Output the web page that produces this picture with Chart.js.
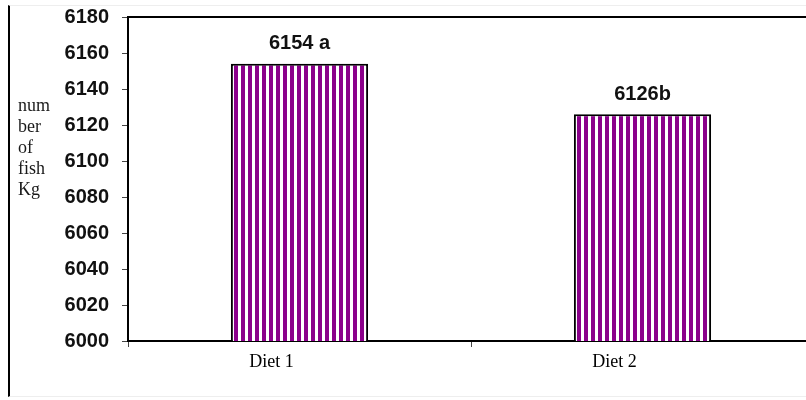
<!DOCTYPE html>
<html>
<head>
<meta charset="utf-8">
<script src="https://cdn.jsdelivr.net/npm/chart.js@4/dist/chart.umd.min.js"></script>
<style>
  html, body { margin: 0; padding: 0; background: #fff; overflow: hidden; width: 806px; height: 400px; }
  #wrap { position: relative; width: 806px; height: 400px; }
  #frame { position: absolute; left: 8px; top: 5px; width: 810px; height: 392px;
           border-left: 2px solid #000; border-top: 1px solid #eee; border-bottom: 1px solid #eee; box-sizing: border-box; }
  #holder { position: absolute; left: 0; top: 0; width: 814px; height: 400px; }
  #ytitle { position: absolute; left: 18px; top: 95px; font-family: "Liberation Serif", serif;
            font-size: 18px; line-height: 21px; color: #1a1a1a; }
</style>
</head>
<body>
<div id="wrap">
  <div id="frame"></div>
  <div id="holder"><canvas id="c" width="814" height="400"></canvas></div>
  <div id="ytitle">num<br>ber<br>of<br>fish<br>Kg</div>
</div>
<script>
// Fish yield per diet
const categories = ["Diet 1", "Diet 2"];
const fishKg = [6154, 6126];
const letters = [" a", "b"];
const yTicks = [6000, 6020, 6040, 6060, 6080, 6100, 6120, 6140, 6160, 6180];

// vertical purple/white stripe fill
const stripeTile = document.createElement("canvas");
stripeTile.width = 7; stripeTile.height = 10;
(() => {
  const g = stripeTile.getContext("2d");
  g.fillStyle = "#ffffff"; g.fillRect(0, 0, 7, 10);
  g.fillStyle = "#8b008b"; g.fillRect(3, 0, 4, 10);
})();
const pattern = document.getElementById("c").getContext("2d").createPattern(stripeTile, "repeat");

const topLine = {
  id: "topLine",
  afterDraw(chart) {
    const { ctx, chartArea } = chart;
    ctx.save();
    ctx.strokeStyle = "#000";
    ctx.lineWidth = 2;
    ctx.beginPath();
    ctx.moveTo(chartArea.left - 1, chartArea.top);
    ctx.lineTo(chartArea.right, chartArea.top);
    ctx.stroke();
    ctx.restore();
  }
};

const valueLabels = {
  id: "valueLabels",
  afterDatasetsDraw(chart) {
    const { ctx } = chart;
    const meta = chart.getDatasetMeta(0);
    ctx.save();
    ctx.font = 'bold 20px "Liberation Sans", Arial, sans-serif';
    ctx.fillStyle = "#111";
    ctx.textAlign = "center";
    ctx.textBaseline = "middle";
    meta.data.forEach((bar, i) => {
      ctx.fillText(fishKg[i] + letters[i], bar.x, bar.y - 20);
    });
    ctx.restore();
  }
};

new Chart(document.getElementById("c"), {
  type: "bar",
  data: {
    labels: categories,
    datasets: [{
      data: fishKg,
      backgroundColor: pattern,
      borderColor: "#000",
      borderWidth: 2,
      borderSkipped: "bottom",
      barPercentage: 0.4,
      categoryPercentage: 1.0
    }]
  },
  options: {
    responsive: false,
    animation: false,
    devicePixelRatio: 1,
    layout: { padding: { top: 17, right: 0, left: 0, bottom: 0 } },
    plugins: { legend: { display: false }, tooltip: { enabled: false } },
    scales: {
      x: {
        offset: true,
        grid: { offset: true, drawOnChartArea: false, tickLength: 6, color: "#444", lineWidth: 1 },
        border: { color: "#000", width: 2 },
        ticks: { color: "#000", padding: 4, labelOffset: -28, font: { family: '"Liberation Serif", serif', size: 18 } },
        afterFit(s) { s.height = 59; s.paddingLeft = 0; s.paddingRight = 0; }
      },
      y: {
        min: 6000,
        max: 6180,
        afterBuildTicks(s) { s.ticks = yTicks.map(v => ({ value: v })); },
        grid: { drawOnChartArea: false, tickLength: 6, color: "#444" },
        border: { color: "#000", width: 2 },
        ticks: {
          color: "#111", padding: 13,
          callback: v => String(v),
          font: { family: '"Liberation Sans", Arial, sans-serif', size: 20, weight: "bold" }
        },
        afterFit(s) { s.width = 128; s.paddingTop = 0; s.paddingBottom = 0; }
      }
    }
  },
  plugins: [topLine, valueLabels]
});
</script>
</body>
</html>
